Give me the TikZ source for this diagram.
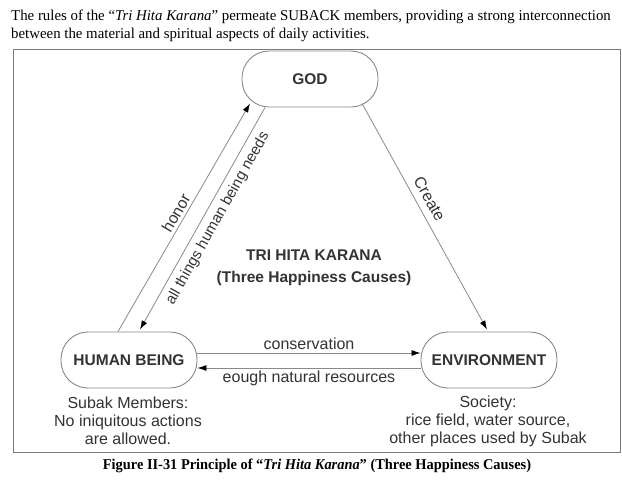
\documentclass[tikz,border=0pt]{standalone}
\usepackage{fontspec}
\setmainfont{Liberation Sans}
\newfontfamily\capserif{Liberation Serif}
\usetikzlibrary{arrows.meta}
\definecolor{linegray}{HTML}{8A8A8A}
\definecolor{framegray}{HTML}{7A7A7A}
\definecolor{txt}{HTML}{333333}
\begin{document}
\begin{tikzpicture}[x=1pt,y=-1pt,
  box/.style={draw=linegray, line width=0.9pt, rounded corners=27pt, minimum width=136pt, minimum height=56pt, inner sep=0pt, font=\fontsize{15.5}{18}\selectfont\bfseries, text=txt},
  conn/.style={draw=linegray, line width=0.8pt, -{Latex[length=9pt,width=6pt,color=black]}},
  lbl/.style={font=\fontsize{16}{18}\selectfont, text=txt, inner sep=3pt},
  note/.style={font=\fontsize{16}{18}\selectfont, text=txt, align=center, inner sep=0pt},
  toptext/.style={font=\capserif\fontsize{15}{16}\selectfont, text=black, anchor=base west, inner sep=0pt},
  captext/.style={font=\capserif\bfseries\fontsize{15}{17}\selectfont, text=black, inner sep=0pt}
]
\useasboundingbox (0,0) rectangle (622,480);
\fill[white] (0,0) rectangle (622,480);
\node[toptext, xscale=0.99] (t1) at (11,20) {The rules of the “\textit{Tri Hita Karana}” permeate SUBACK members, providing a strong interconnection};
\node[toptext, xscale=0.99] (t2) at (11,38) {between the material and spiritual aspects of daily activities.};
\node[draw=framegray, line width=1.3pt, minimum width=607pt, minimum height=403pt, anchor=north west, inner sep=0pt] (frame) at (13,49) {};
\node[box] (god) at (310,79) {GOD};
\node[box] (hb) at (129,360) {HUMAN BEING};
\node[box] (env) at (489,360) {ENVIRONMENT};
\node[font=\fontsize{15.5}{22}\selectfont\bfseries, text=txt, align=center] (thk) at (314,268) {TRI HITA KARANA\\(Three Happiness Causes)};
\draw[conn] ([xshift=-11pt]hb.north) -- node[lbl, sloped, above, pos=0.5] (honor) {honor} ([xshift=-60pt,yshift=4pt]god.south);
\draw[conn] ([xshift=-45pt]god.south) -- node[lbl, sloped, below, pos=0.47, inner sep=6pt, font=\fontsize{15}{18}\selectfont] (needs) {all things human being needs} ([xshift=11pt,yshift=2pt]hb.north);
\draw[conn] ([xshift=52pt,yshift=4pt]god.south) -- node[lbl, sloped, above, pos=0.45, inner sep=7pt] (create) {Create} ([xshift=-2pt,yshift=2pt]env.north);
\draw[conn] ([yshift=7pt]hb.east) -- node[lbl, above] (cons) {conservation} ([yshift=7pt]env.west);
\draw[conn] ([yshift=-8pt]env.west) -- node[lbl, below] (res) {eough natural resources} ([yshift=-8pt]hb.east);
\node[note] (hbnote) at (128,421) {Subak Members:\\No iniquitous actions\\are allowed.};
\node[note] (envnote) at (488,421) {Society:\\rice field, water source,\\other places used by Subak};
\node[captext, xscale=0.96] (cap) at (317,466) {Figure II-31 Principle of “\textit{Tri Hita Karana}” (Three Happiness Causes)};
\end{tikzpicture}
\end{document}
